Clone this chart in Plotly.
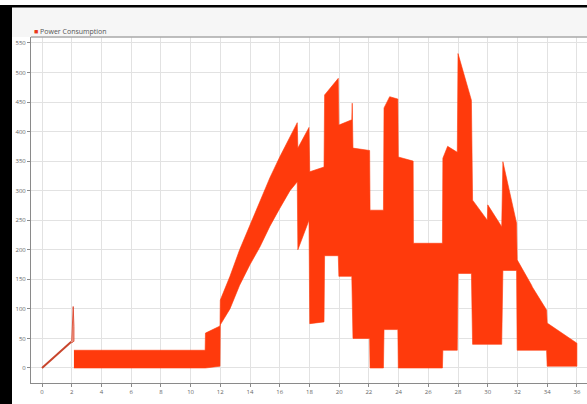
import plotly.graph_objects as go

# Ramp at start (0-2 h)
ramp_x = [0, 1.97]
ramp_y = [0, 44.5]

# Spike at ~2 h
spike_x = [2.0, 2.07, 2.1, 2.15]
spike_hi = [45, 80, 104, 70]
spike_lo = [42, 44, 45, 45]

# Upper envelope of oscillating power signal
upper_x = [2.15, 10.98, 11.0, 11.98, 12.0, 12.65, 13.3, 14.0, 14.67, 15.34, 16.0, 16.69, 17.18,
           17.22, 17.97, 18.02, 18.98, 19.02, 19.94, 19.98, 20.85, 20.88, 20.93, 22.05, 22.08,
           22.98, 23.02, 23.4, 23.95, 23.98, 24.98, 25.0, 26.95, 26.98, 27.3, 27.95, 28.0, 28.9,
           28.98, 29.97, 30.0, 30.94, 31.02, 31.94, 31.98, 32.95, 33.0, 33.96, 34.0, 36.0]
upper_y = [30, 30, 59, 71, 115, 155, 200, 243, 284, 322, 357, 391, 415,
           372, 407, 332, 340, 462, 490, 411, 420, 448, 372, 368, 267,
           267, 440, 459, 455, 357, 350, 211, 211, 355, 375, 365, 532, 453,
           284, 250, 276, 239, 349, 245, 183, 140, 137, 98, 76, 42]

# Lower envelope
lower_x = [2.15, 10.98, 11.0, 11.98, 12.0, 12.65, 13.3, 14.0, 14.67, 15.34, 16.0, 16.69, 17.18,
           17.22, 17.97, 18.02, 18.98, 19.02, 19.94, 19.98, 20.85, 20.93, 22.05, 22.08,
           22.98, 23.02, 23.95, 23.98, 24.98, 25.0, 26.95, 26.98, 27.95, 28.0, 28.9,
           28.98, 29.97, 30.0, 30.94, 31.02, 31.94, 31.98, 33.96, 34.0, 36.0]
lower_y = [0, 0, 0, 3, 73, 100, 140, 175, 205, 240, 270, 300, 315,
           200, 250, 75, 78, 190, 190, 155, 155, 50, 50, 0,
           0, 65, 65, 0, 0, 0, 0, 30, 30, 160, 160,
           40, 40, 40, 40, 165, 165, 30, 30, 3, 3]

x_ticks = list(range(0, 37, 2))
y_ticks = list(range(0, 551, 50))

RED = '#ff3a0c'

fig = go.Figure()

fig.add_trace(go.Scatter(
    x=upper_x + lower_x[::-1], y=upper_y + lower_y[::-1],
    mode='lines', fill='toself', fillcolor=RED,
    line=dict(color=RED, width=0.6), name='Power Consumption', showlegend=False,
    hoverinfo='skip'))

fig.add_trace(go.Scatter(
    x=spike_x + spike_x[::-1], y=spike_hi + spike_lo[::-1],
    mode='lines', fill='toself', fillcolor='rgba(236,140,120,0.75)',
    line=dict(color='#d9381e', width=0.8), showlegend=False, hoverinfo='skip'))

fig.add_trace(go.Scatter(
    x=ramp_x, y=ramp_y, mode='lines',
    line=dict(color='#c8452c', width=2), showlegend=False, hoverinfo='skip'))

W, H = 587, 404
ml, mr, mt, mb = 31, 0, 37, 21
pw, ph = W - ml - mr, H - mt - mb

def px_x(p):
    return (p - ml) / pw

def px_y(p):
    return (H - mb - p) / ph

shapes = [
    # top header band
    dict(type='rect', xref='paper', yref='paper', x0=px_x(12), x1=px_x(W), y0=px_y(37), y1=px_y(7),
         fillcolor='#f6f6f6', line=dict(width=0), layer='below'),
    # top border line of plot
    dict(type='line', xref='paper', yref='paper', x0=px_x(31), x1=px_x(W), y0=px_y(37), y1=px_y(37),
         line=dict(color='#a8a8a8', width=1.5)),
    # black frame
    dict(type='rect', xref='paper', yref='paper', x0=px_x(0), x1=px_x(12), y0=px_y(H), y1=px_y(5),
         fillcolor='#000000', line=dict(width=0)),
    dict(type='rect', xref='paper', yref='paper', x0=px_x(0), x1=px_x(W), y0=px_y(7.5), y1=px_y(5),
         fillcolor='#000000', line=dict(width=0)),
]

fig.add_annotation(
    xref='paper', yref='paper', x=px_x(32), y=px_y(31), xanchor='left', yanchor='middle',
    text='<span style="color:#e8381a">■</span> Power Consumption', showarrow=False,
    font=dict(size=7, color='#555555', family='Open Sans'))

fig.update_layout(
    width=W, height=H,
    margin=dict(l=ml, r=mr, t=mt, b=mb, autoexpand=False),
    paper_bgcolor='#ffffff', plot_bgcolor='#ffffff',
    shapes=shapes,
    font=dict(family='Open Sans', size=6, color='#666666'),
    xaxis=dict(range=[-0.74, 36.68], tickvals=x_ticks, ticktext=[str(v) for v in x_ticks],
               showgrid=True, gridcolor='#e2e2e2', gridwidth=1, zeroline=False,
               showline=True, linecolor='#8a8a8a', linewidth=1,
               ticks='outside', ticklen=3, tickcolor='#8a8a8a',
               tickfont=dict(size=6, color='#666666')),
    yaxis=dict(range=[-25.4, 560], tickvals=y_ticks, ticktext=[str(v) for v in y_ticks],
               showgrid=True, gridcolor='#e2e2e2', gridwidth=1, zeroline=False,
               showline=True, linecolor='#8a8a8a', linewidth=1,
               ticks='outside', ticklen=3, tickcolor='#8a8a8a',
               tickfont=dict(size=6, color='#666666')),
)

fig.write_html('out.html', config={'displayModeBar': False},
               post_script="document.body.style.margin='0';document.body.style.overflow='hidden';")
